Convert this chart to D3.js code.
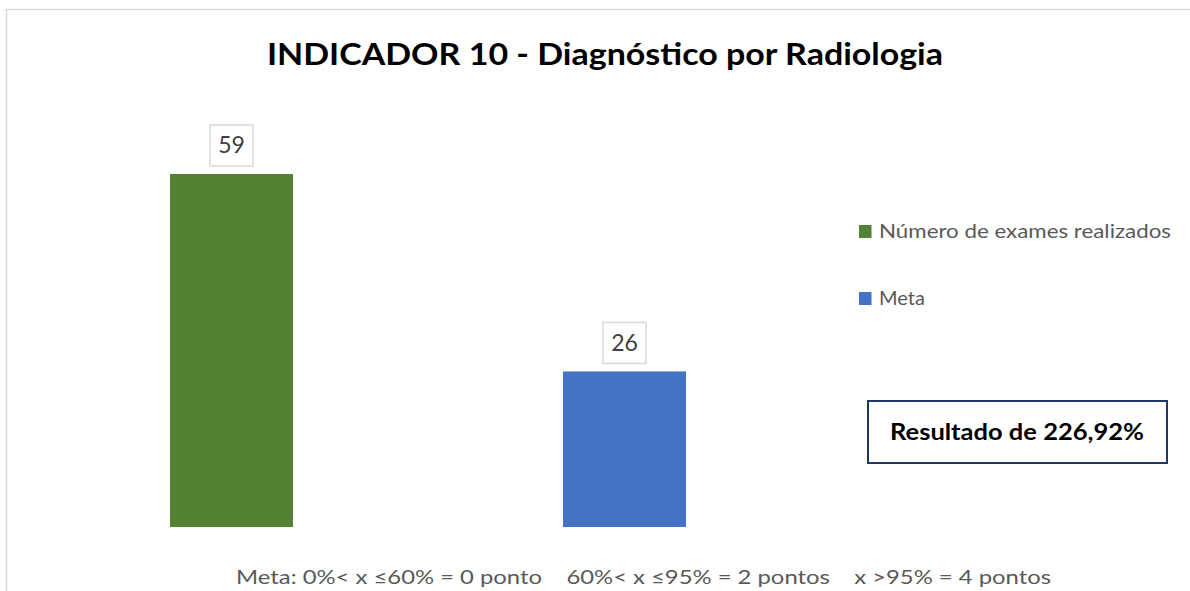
<!DOCTYPE html>
<html>
<head>
<meta charset="utf-8">
<script src="https://cdn.jsdelivr.net/npm/d3@7"></script>
<style>
  body { margin: 0; background: #fff; }
  svg text { font-family: Lato, "Open Sans", sans-serif; }
</style>
</head>
<body>
<div id="chart"></div>
<script>
// chart data
const categories = ["Número de exames realizados", "Meta"];
const values = [59, 26];
const colors = ["#548235", "#4472c4"];
const title = "INDICADOR 10 - Diagnóstico por Radiologia";
const resultText = "Resultado de 226,92%";
const footText = "Meta: 0%< x ≤60% = 0 ponto    60%< x ≤95% = 2 pontos    x >95% = 4 pontos";

const width = 1190, height = 591;

const svg = d3.select("#chart")
  .append("svg")
  .attr("width", width)
  .attr("height", height);

// chart area border (top + left visible)
svg.append("path")
  .attr("d", `M6.5,${height} V9.5 H${width}`)
  .attr("fill", "none")
  .attr("stroke", "#d9d9d9")
  .attr("stroke-width", 1.5);

svg.append("text")
  .attr("x", 605)
  .attr("y", 65)
  .attr("text-anchor", "middle")
  .attr("font-size", 31)
  .attr("font-weight", "bold")
  .attr("fill", "#000")
  .attr("textLength", 676)
  .attr("lengthAdjust", "spacingAndGlyphs")
  .text(title);

const x = d3.scaleBand()
  .domain(categories)
  .range([35, 821])
  .paddingInner(0.687)
  .paddingOuter(0.3435);

const y = d3.scaleLinear()
  .domain([0, 59])
  .range([527, 174]);

svg.selectAll("rect.bar")
  .data(values)
  .join("rect")
  .attr("class", "bar")
  .attr("x", (d, i) => x(categories[i]))
  .attr("y", d => y(d))
  .attr("width", x.bandwidth())
  .attr("height", d => y(0) - y(d))
  .attr("fill", (d, i) => colors[i]);

// data labels with light boxes
const labels = svg.selectAll("g.label")
  .data(values)
  .join("g")
  .attr("class", "label")
  .attr("transform", (d, i) => `translate(${x(categories[i]) + x.bandwidth() / 2},${y(d) - 29})`);

labels.append("rect")
  .attr("x", -21.5)
  .attr("y", -20)
  .attr("width", 43)
  .attr("height", 41)
  .attr("fill", "#fff")
  .attr("stroke", "#d9d9d9")
  .attr("stroke-width", 1.5);

labels.append("text")
  .attr("text-anchor", "middle")
  .attr("dy", "0.36em")
  .attr("font-size", 23)
  .attr("fill", "#404040")
  .text(d => d);

// legend
const legend = svg.selectAll("g.legend")
  .data(categories)
  .join("g")
  .attr("class", "legend")
  .attr("transform", (d, i) => `translate(859,${225 + i * 67})`);

legend.append("rect")
  .attr("width", 12.5)
  .attr("height", 13)
  .attr("fill", (d, i) => colors[i]);

legend.append("text")
  .attr("x", 20)
  .attr("y", 13)
  .attr("font-size", 20)
  .attr("fill", "#595959")
  .each(function(d, i) {
    if (i === 0) d3.select(this).attr("textLength", 292).attr("lengthAdjust", "spacingAndGlyphs");
  })
  .text(d => d);

// result box
svg.append("rect")
  .attr("x", 868)
  .attr("y", 401)
  .attr("width", 299)
  .attr("height", 62)
  .attr("fill", "#fff")
  .attr("stroke", "#1f3864")
  .attr("stroke-width", 2);

svg.append("text")
  .attr("x", 1017)
  .attr("y", 440)
  .attr("text-anchor", "middle")
  .attr("font-size", 22)
  .attr("font-weight", "bold")
  .attr("fill", "#000")
  .attr("textLength", 254)
  .attr("lengthAdjust", "spacingAndGlyphs")
  .text(resultText);

svg.append("text")
  .attr("x", 236)
  .attr("y", 584)
  .attr("font-size", 20)
  .attr("fill", "#595959")
  .attr("xml:space", "preserve")
  .style("white-space", "pre")
  .attr("textLength", 815)
  .attr("lengthAdjust", "spacingAndGlyphs")
  .text(footText);
</script>
</body>
</html>
